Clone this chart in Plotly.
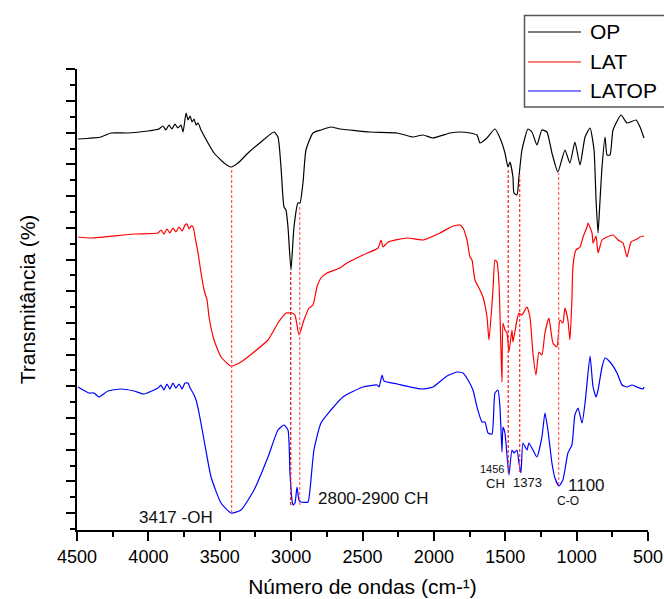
import plotly.graph_objects as go

# ---------------- data (wavenumber cm-1, transmittance a.u., offset spectra) ----------------
op_w = [4493, 4332, 4262, 4143, 4003, 3926, 3898, 3877, 3856, 3835, 3814, 3793, 3771, 3757, 3736,
        3722, 3708, 3694, 3680, 3666, 3652, 3631, 3582, 3540, 3470, 3421, 3372, 3302, 3211, 3120,
        3092, 3071, 3050, 3036, 3022, 3001, 2980, 2952, 2938, 2917, 2896, 2847, 2791, 2721, 2658,
        2588, 2448, 2258, 2202, 2146, 2076, 2006, 1887, 1817, 1747, 1698, 1677, 1628, 1572, 1537,
        1502, 1481, 1467, 1446, 1439, 1418, 1404, 1383, 1341, 1313, 1278, 1243, 1208, 1173, 1131,
        1082, 1047, 1012, 976, 941, 906, 878, 864, 850, 836, 822, 801, 787, 766, 745, 689, 647,
        584, 556, 528]
op_t = [391, 393, 397, 397, 399, 401, 404, 400, 405, 401, 406, 402, 405, 398, 417,
        410, 414, 408, 411, 405, 407, 400, 387, 377, 367, 363, 367, 377, 388, 398,
        393, 363, 323, 320, 303, 260, 303, 327, 327, 347, 380, 397, 400, 403, 401,
        400, 398, 397, 395, 393, 395, 392, 397, 398, 397, 395, 387, 392, 401, 392,
        377, 363, 368, 353, 337, 335, 353, 380, 401, 398, 385, 400, 398, 377, 358,
        380, 367, 388, 365, 393, 402, 380, 330, 297, 330, 363, 393, 375, 375, 400, 415, 407,
        410, 403, 392]

lat_w = [4493, 4402, 4101, 3933, 3912, 3891, 3870, 3849, 3828, 3807, 3785, 3764, 3743, 3729,
         3715, 3701, 3687, 3673, 3652, 3631, 3610, 3589, 3575, 3540, 3491, 3421, 3351, 3260, 3162,
         3092, 3036, 3008, 2994, 2973, 2945, 2910, 2875, 2847, 2819, 2791, 2749, 2658, 2609, 2497,
         2391, 2370, 2356, 2321, 2188, 2076, 1957, 1866, 1817, 1796, 1768, 1747, 1733, 1712, 1677,
         1656, 1628, 1614, 1586, 1572, 1558, 1544, 1530, 1523, 1516, 1502, 1488, 1474, 1453, 1446,
         1418, 1404, 1383, 1348, 1327, 1306, 1285, 1264, 1243, 1222, 1194, 1166, 1138, 1117, 1096,
         1082, 1061, 1047, 1033, 1026, 1005, 976, 955, 927, 920, 892, 885, 864, 850, 822, 787, 745,
         710, 675, 647, 619, 577, 556, 528]
lat_t = [293, 292, 296, 297, 300, 296, 301, 297, 302, 298, 303, 299, 305, 306,
         301, 304, 303, 293, 277, 257, 240, 230, 213, 190, 173, 164, 168, 178, 190,
         207, 217, 217, 217, 215, 195, 210, 222, 225, 243, 252, 257, 262, 267, 275,
         282, 290, 283, 288, 292, 290, 297, 304, 305, 302, 290, 273, 270, 250, 240,
         233, 213, 190, 240, 270, 268, 247, 180, 148, 207, 200, 197, 178, 200, 188,
         210, 217, 215, 223, 213, 177, 155, 178, 175, 197, 212, 187, 183, 210, 207,
         222, 210, 190, 230, 263, 280, 283, 293, 303, 307, 297, 287, 294, 277, 290, 293, 295,
         290, 287, 273, 288, 291, 293, 294]

latop_w = [4493, 4416, 4381, 4346, 4283, 4192, 4101, 4031, 3933, 3912, 3891, 3870, 3849, 3828,
           3807, 3785, 3764, 3743, 3722, 3708, 3687, 3666, 3645, 3610, 3561, 3491, 3421, 3351, 3260,
           3162, 3092, 3050, 3022, 3008, 2994, 2987, 2973, 2959, 2945, 2931, 2882, 2868, 2840, 2791,
           2721, 2637, 2497, 2398, 2384, 2363, 2349, 2258, 2167, 2083, 2006, 1908, 1838, 1796, 1761,
           1726, 1698, 1663, 1642, 1621, 1593, 1572, 1551, 1537, 1523, 1516, 1502, 1488, 1474, 1453,
           1439, 1418, 1404, 1390, 1376, 1348, 1334, 1306, 1278, 1243, 1222, 1201, 1173, 1152, 1124,
           1096, 1061, 1033, 1012, 990, 962, 941, 906, 885, 864, 850, 822, 801, 766, 717, 682, 647,
           612, 577, 535, 528]
latop_t = [143, 137, 137, 133, 139, 141, 139, 136, 142, 145, 140, 146, 141, 147,
           142, 146, 141, 147, 147, 142, 137, 130, 117, 90, 53, 27, 17, 20, 40,
           73, 100, 105, 100, 57, 30, 25, 27, 43, 30, 28, 28, 40, 80, 107,
           120, 133, 143, 145, 143, 155, 149, 146, 143, 141, 143, 154, 158, 157, 150,
           140, 123, 108, 108, 97, 96, 137, 140, 123, 78, 103, 97, 75, 55, 80,
           77, 80, 67, 57, 87, 80, 87, 80, 73, 93, 117, 100, 67, 52, 44,
           50, 77, 85, 115, 122, 107, 127, 174, 143, 133, 140, 163, 172, 168, 157, 145, 143,
           145, 143, 141, 143]

series_names = ["OP", "LAT", "LATOP"]
series_colors = ["#000000", "#ff0000", "#0000ff"]

# marker lines: wavenumber, bottom, top, colour
mark_w = [3417, 3003, 2940, 1479, 1399, 1126]
mark_lo = [17, 25, 25, 57, 58, 45]
mark_hi = [363, 260, 325, 362, 355, 357]
mark_col = ["#ff5a5a", "#d81e1e", "#ff6f6f", "#ff2a2a", "#ff3a3a", "#ff6a6a"]

# labels
lab_text = ["3417 -OH", "2800-2900 CH", "1456", "CH", "1373", "1100", "C-O"]
lab_w = [3810, 2423, 1593, 1568, 1344, 930, 1063]
lab_t = [13, 32, 61, 47, 48, 45, 29]
lab_size = [17, 17, 11, 13, 13, 17, 12]

xtick_vals = [4500, 4000, 3500, 3000, 2500, 2000, 1500, 1000, 500]

FONT = "Liberation Sans, Arial, sans-serif"

fig = go.Figure()
for wv, tv, nm, col in zip([op_w, lat_w, latop_w], [op_t, lat_t, latop_t], series_names, series_colors):
    fig.add_trace(go.Scatter(x=wv, y=tv, mode="lines", name=nm,
                             line=dict(color=col, width=1.2, shape="spline", smoothing=0.5),
                             showlegend=False))

for w, lo, hi, c in zip(mark_w, mark_lo, mark_hi, mark_col):
    fig.add_trace(go.Scatter(x=[w, w], y=[lo, hi], mode="lines", showlegend=False,
                             line=dict(color=c, width=1.3, dash="3px,2px")))

for t, w, y, s in zip(lab_text, lab_w, lab_t, lab_size):
    fig.add_annotation(x=w, y=y, xref="x", yref="y", text=t, showarrow=False,
                       xanchor="center", yanchor="middle",
                       font=dict(family=FONT, size=s, color="#111111"))

# manual legend (box, sample lines, labels) in paper coordinates
fig.add_shape(type="rect", xref="paper", yref="paper", x0=0.7837, x1=1.06, y0=0.9176, y1=1.1161,
              line=dict(color="#555555", width=1.5), fillcolor="white", layer="above")
leg_y = [1.0803, 1.0152, 0.9523]
for nm, col, ly in zip(series_names, series_colors, leg_y):
    fig.add_shape(type="line", xref="paper", yref="paper", x0=0.7898, x1=0.8827, y0=ly, y1=ly,
                  line=dict(color=col, width=1.2), layer="above")
    fig.add_annotation(x=0.8949, y=ly, xref="paper", yref="paper", text=nm, showarrow=False,
                       xanchor="left", yanchor="middle",
                       font=dict(family=FONT, size=21, color="#000000"))

fig.update_layout(
    width=664, height=599,
    margin=dict(l=77, r=16, t=69, b=69, autoexpand=False),
    paper_bgcolor="white", plot_bgcolor="white",
    font=dict(family=FONT, color="#000000"),
    showlegend=False,
)
fig.update_xaxes(
    range=[4500, 500], tickvals=xtick_vals, ticktext=[str(v) for v in xtick_vals],
    showgrid=False, zeroline=False, showline=True, linecolor="black", linewidth=1.8,
    ticks="outside", ticklen=9, tickwidth=1.5, tickcolor="black",
    tickfont=dict(size=18, family=FONT),
    minor=dict(dtick=250, tick0=0, ticks="outside", ticklen=5, tickwidth=1.5, tickcolor="black"),
    title=dict(text="Número de ondas (cm-¹)", font=dict(size=21, family=FONT), standoff=14),
)
fig.update_yaxes(
    range=[0, 461], tick0=16.9, dtick=31.7, showticklabels=False,
    showgrid=False, zeroline=False, showline=True, linecolor="black", linewidth=1.8,
    ticks="outside", ticklen=9, tickwidth=1.5, tickcolor="black",
    minor=dict(dtick=15.85, tick0=1.05, ticks="outside", ticklen=5, tickwidth=1.5, tickcolor="black"),
    title=dict(text="Transmitância (%)", font=dict(size=21, family=FONT), standoff=25),
)

fig.write_html("out.html")
